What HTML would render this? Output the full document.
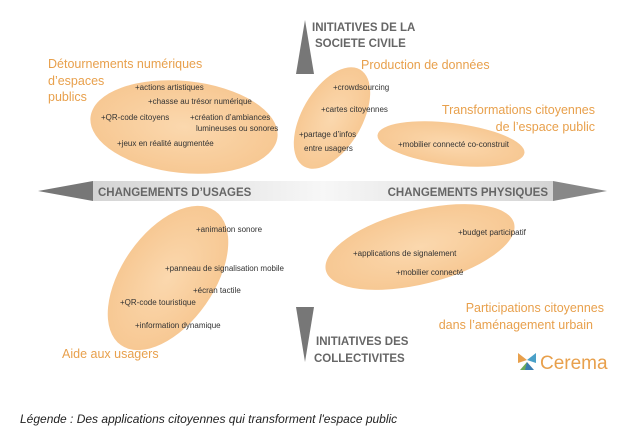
<!DOCTYPE html>
<html><head><meta charset="utf-8"><style>
body{margin:0;background:#fff;width:640px;height:436px;overflow:hidden}
svg text{font-family:"Liberation Sans",sans-serif}
.o{fill:#e8a04c;font-size:12.5px}
.s{fill:#333;font-size:8px;font-family:"Liberation Sans Narrow","Liberation Sans",sans-serif}
.g{fill:#666;font-size:11.5px;font-weight:bold}
</style></head><body>
<svg width="640" height="436" viewBox="0 0 640 436" xmlns="http://www.w3.org/2000/svg">
<defs>
<radialGradient id="eg" cx="50%" cy="50%" r="60%"><stop offset="0" stop-color="#fbd8ae"/><stop offset="1" stop-color="#f6c58e"/></radialGradient>
<linearGradient id="bar" x1="0" x2="1"><stop offset="0" stop-color="#d4d4d4"/><stop offset="0.5" stop-color="#f7f7f7"/><stop offset="1" stop-color="#d4d4d4"/></linearGradient>
</defs>
<g fill="url(#eg)">
<ellipse cx="184" cy="127" rx="94" ry="46" transform="rotate(6 184 127)"/>
<ellipse cx="332" cy="118" rx="56" ry="30" transform="rotate(-60 332 118)"/>
<ellipse cx="451" cy="144" rx="74" ry="21" transform="rotate(7 451 144)"/>
<ellipse cx="168" cy="278" rx="82" ry="46" transform="rotate(-55 168 278)"/>
<ellipse cx="420" cy="247" rx="97" ry="37" transform="rotate(-14 420 247)"/>
</g>
<rect x="93" y="181" width="460" height="20" fill="url(#bar)"/>
<polygon points="38,191 93,181 93,201" fill="#777"/>
<polygon points="607,191 553,181 553,201" fill="#888"/>
<polygon points="305,20 296,74 314,74" fill="#777"/>
<polygon points="305,362 296,307 314,307" fill="#777"/>
<text class="g" x="98" y="196">CHANGEMENTS D’USAGES</text>
<text class="g" x="548" y="196" text-anchor="end">CHANGEMENTS PHYSIQUES</text>
<text class="g" x="312" y="31">INITIATIVES DE LA</text>
<text class="g" x="315" y="47">SOCIETE CIVILE</text>
<text class="g" x="316" y="345">INITIATIVES DES</text>
<text class="g" x="314" y="362">COLLECTIVITES</text>
<text class="o" x="48" y="68">Détournements numériques</text>
<text class="o" x="48" y="85">d’espaces</text>
<text class="o" x="48" y="101">publics</text>
<text class="o" x="361" y="69">Production de données</text>
<text class="o" x="595" y="114" text-anchor="end">Transformations citoyennes</text>
<text class="o" x="595" y="131" text-anchor="end">de l’espace public</text>
<text class="o" x="604" y="312" text-anchor="end">Participations citoyennes</text>
<text class="o" x="593" y="329" text-anchor="end">dans l’aménagement urbain</text>
<text class="o" x="62" y="358">Aide aux usagers</text>
<g class="s">
<text x="135" y="90">+actions artistiques</text>
<text x="148" y="104">+chasse au trésor numérique</text>
<text x="101" y="120">+QR-code citoyens</text>
<text x="190" y="120">+création d’ambiances</text>
<text x="196" y="131">lumineuses ou sonores</text>
<text x="117" y="146">+jeux en réalité augmentée</text>
<text x="333" y="90">+crowdsourcing</text>
<text x="321" y="112">+cartes citoyennes</text>
<text x="299" y="137">+partage d’infos</text>
<text x="304" y="151">entre usagers</text>
<text x="398" y="147">+mobilier connecté co-construit</text>
<text x="196" y="232">+animation sonore</text>
<text x="165" y="271">+panneau de signalisation mobile</text>
<text x="193" y="293">+écran tactile</text>
<text x="120" y="305">+QR-code touristique</text>
<text x="135" y="328">+information dynamique</text>
<text x="458" y="235">+budget participatif</text>
<text x="353" y="256">+applications de signalement</text>
<text x="396" y="275">+mobilier connecté</text>
</g>
<g transform="translate(527,361)">
<path d="M-9,-8 L0,-1 L-9,2Z" fill="#e8a04c"/><path d="M9,-8 L0,-1 L9,2Z" fill="#4aa0c8"/>
<path d="M-7,9 L0,1 L2,9Z" fill="#6aaa5a"/><path d="M7,9 L0,1 L-2,9Z" fill="#3a7db0"/>
</g>
<text x="540" y="369" fill="#e8a04c" font-size="19">Cerema</text>
<text x="20" y="423" fill="#222" font-size="12" font-style="italic">Légende : Des applications citoyennes qui transforment l'espace public</text>
</svg>
</body></html>
